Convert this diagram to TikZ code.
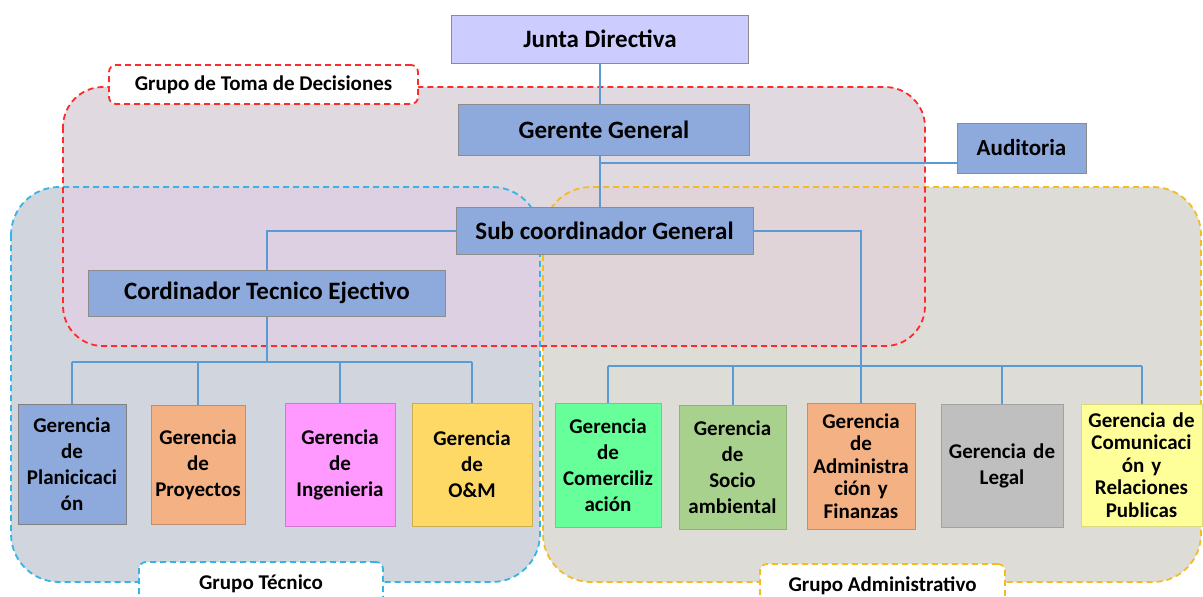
\documentclass[tikz,border=0pt]{standalone}
\usepackage{fontspec}
\setmainfont{Carlito}
\usetikzlibrary{calc}
\definecolor{bluefill}{HTML}{D0D5DE}
\definecolor{orfill}{HTML}{DEDCD6}
\definecolor{redfill}{HTML}{E0D9E0}
\definecolor{rbfill}{HTML}{DDD0E3}
\definecolor{rofill}{HTML}{E1D4D8}
\definecolor{redline}{HTML}{FF2A2A}
\definecolor{blueline}{HTML}{33B5E8}
\definecolor{orline}{HTML}{F5BC22}
\definecolor{conn}{HTML}{5B9BD5}
\definecolor{boxblue}{HTML}{8EA9DB}
\definecolor{junta}{HTML}{CCCCFF}
\definecolor{cpeach}{HTML}{F4B183}
\definecolor{cpink}{HTML}{FF99FF}
\definecolor{cgold}{HTML}{FFD966}
\definecolor{cgreen}{HTML}{66FF99}
\definecolor{colive}{HTML}{A9D18E}
\definecolor{cgray}{HTML}{BFBFBF}
\definecolor{cyellow}{HTML}{FFFF99}
\tikzset{
  grpline/.style={line width=1.8pt, dash pattern=on 6pt off 4pt},
  connector/.style={draw=conn, line width=2pt},
  topbox/.style={draw=black!45, line width=1pt, fill=boxblue, font=\bfseries\fontsize{25}{29}\selectfont, inner sep=0pt},
  gbox/.style={line width=1pt, font=\bfseries\fontsize{21}{26}\selectfont, align=center, inner sep=0pt, text width=#1},
  gbox/.default=100pt,
  tight/.style={font=\bfseries\fontsize{21}{22.5}\selectfont},
  lblbox/.style={fill=white, grpline, rounded corners=7pt, font=\bfseries\fontsize{21}{24}\selectfont, inner sep=0pt}
}
\begin{document}
\begin{tikzpicture}[x=1pt,y=-1pt]
\useasboundingbox (0,0) rectangle (1203,597);
% group fills
\def\bluepath{(11,187) rectangle (540,582)}
\def\orpath{(543,187) rectangle (1201,582)}
\def\redpath{(63,87) rectangle (925,346)}
\fill[bluefill, rounded corners=48pt] \bluepath;
\fill[orfill, rounded corners=48pt] \orpath;
\fill[redfill, rounded corners=40pt] \redpath;
\begin{scope}
  \clip[rounded corners=40pt] \redpath;
  \fill[rbfill, rounded corners=48pt] \bluepath;
  \fill[rofill, rounded corners=48pt] \orpath;
\end{scope}
% group borders
\draw[grpline, blueline, rounded corners=48pt] \bluepath;
\draw[grpline, orline, rounded corners=48pt] \orpath;
\draw[grpline, redline, rounded corners=40pt] \redpath;
% group labels
\node[lblbox, draw=redline, minimum width=309pt, minimum height=39pt] (lred) at (263.5,84.5) {Grupo de Toma de Decisiones};
\node[lblbox, draw=blueline, minimum width=244pt, minimum height=44pt] (lblue) at (261,584) {Grupo Técnico};
\node[lblbox, draw=orline, minimum width=245pt, minimum height=44pt] (lor) at (882.5,586) {Grupo Administrativo};
% top nodes
\node[topbox, fill=junta, minimum width=297pt, minimum height=48pt] (jd) at (600,39) {Junta Directiva};
\node[topbox, minimum width=291pt, minimum height=51pt] (gg) at (604,129.5) {Gerente General};
\node[topbox, minimum width=129pt, minimum height=50pt, font=\bfseries\fontsize{23}{27}\selectfont] (aud) at (1021.5,148) {Auditoria};
\node[topbox, minimum width=297pt, minimum height=47pt] (sub) at (604.5,230.5) {Sub coordinador General};
\node[topbox, minimum width=357pt, minimum height=46pt] (cte) at (267,293) {Cordinador Tecnico Ejectivo};
% bottom nodes
\node[gbox=108pt, draw=black!50, fill=boxblue, minimum height=120pt] (g1) at (72,464) {Gerencia\\de\\Planicicaci\\ón};
\node[gbox=94pt, draw=cpeach!80!black, fill=cpeach, minimum height=119pt] (g2) at (198,464.5) {Gerencia\\de\\Proyectos};
\node[gbox=110pt, draw=cpink!80!black, fill=cpink, minimum height=123pt] (g3) at (340,464.5) {Gerencia\\de\\Ingenieria};
\node[gbox=120pt, draw=cgold!80!black, fill=cgold, minimum height=123pt] (g4) at (472,464.5) {Gerencia\\de\\O\&M};
\node[gbox=106pt, draw=cgreen!85!black, fill=cgreen, minimum height=124pt] (g5) at (608,465) {Gerencia\\de\\Comerciliz\\ación};
\node[gbox=107pt, draw=colive!85!black, fill=colive, minimum height=124pt] (g6) at (732.5,467) {Gerencia\\de\\Socio\\ambiental};
\node[gbox=108pt, tight, draw=cpeach!80!black, fill=cpeach, minimum height=126pt] (g7) at (861,466) {Gerencia\\de\\Administra\\ción y\\Finanzas};
\node[gbox=122pt, draw=cgray!85!black, fill=cgray, minimum height=123pt] (g8) at (1002,465.5) {Gerencia de\\Legal};
\node[gbox=121pt, tight, draw=cyellow!85!black, fill=cyellow, minimum height=122pt] (g9) at (1141.5,465) {Gerencia de\\Comunicaci\\ón y\\Relaciones\\Publicas};
% bus coordinates
\coordinate (audbr) at (600,163);
\coordinate (tbus) at (264,362);
\coordinate (abus) at (861,366);
% connectors
\draw[connector] (jd.south) -- (jd.south |- gg.north);
\draw[connector] (jd.south |- gg.south) -- (jd.south |- sub.north);
\draw[connector] (audbr) -- (audbr -| aud.west);
\draw[connector] (sub.west) -| (cte.north);
\draw[connector] (sub.east) -| (abus);
\draw[connector] (cte.south) -- (cte.south |- tbus);
\draw[connector] (g1.north |- tbus) -- (g4.north |- tbus);
\foreach \g in {g1,g2,g3,g4} \draw[connector] (\g.north |- tbus) -- (\g.north);
\draw[connector] (g5.north |- abus) -- (g9.north |- abus);
\foreach \g in {g5,g6,g7,g8,g9} \draw[connector] (\g.north |- abus) -- (\g.north);
\end{tikzpicture}
\end{document}
